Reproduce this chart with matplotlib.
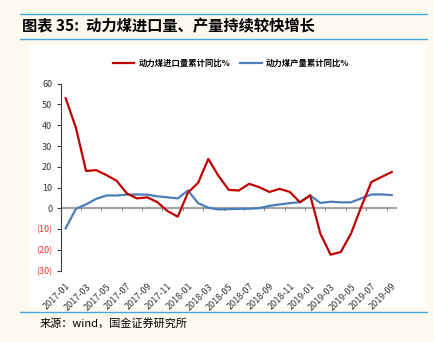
import matplotlib
matplotlib.use("Agg")
import matplotlib.pyplot as plt
from matplotlib.patches import Rectangle
from matplotlib.lines import Line2D
from matplotlib.ticker import FuncFormatter

plt.rcParams['font.family'] = ['Noto Sans CJK SC', 'DejaVu Sans']

# monthly, 2017-01 .. 2019-09
months = [f"{y}-{m:02d}" for y in (2017, 2018, 2019) for m in range(1, 13)][:33]
imports_yoy = [53, 38.8, 18, 18.4, 16, 13.3, 7.2, 4.8, 5.3, 3.0, -1.3, -4.0,
               7.6, 12.3, 23.8, 15.6, 8.9, 8.6, 11.8, 10.2, 7.9, 9.4, 7.9, 2.9,
               6.3, -12.2, -22.3, -21.0, -12.2, 0.6, 12.7, 15.1, 17.5]
output_yoy = [-9.6, -0.2, 1.9, 4.6, 6.2, 6.2, 6.6, 6.7, 6.6, 5.8, 5.3, 4.8,
              8.6, 2.5, 0.3, -0.5, -0.4, -0.2, -0.2, 0.1, 1.2, 1.9, 2.5, 3.0,
              6.2, 2.6, 3.2, 2.9, 2.9, 4.8, 6.7, 6.7, 6.4]
yticks = [-30, -20, -10, 0, 10, 20, 30, 40, 50, 60]

RED = '#C00000'
BLUE = '#4A7EBB'
W, H = 435, 342

fig = plt.figure(figsize=(W / 100, H / 100), dpi=100, facecolor='#FDF9EF')

# white chart panel and blue rules
fig.patches.append(Rectangle((29 / W, 1 - 307 / H), 396 / W, 262 / H,
                             transform=fig.transFigure, facecolor='white',
                             edgecolor='none', zorder=-5))
for yy in (14, 39, 312):
    fig.lines.append(Line2D([20 / W, 427 / W], [1 - yy / H, 1 - yy / H],
                            transform=fig.transFigure, color='#3FA9E0', lw=1.0,
                            zorder=-5))

fig.text(22 / W, 1 - 26 / H, '图表 35:  动力煤进口量、产量持续较快增长',
         fontsize=11, fontweight='bold', va='center', ha='left', style='italic')
fig.text(40 / W, 1 - 323 / H, '来源：wind，国金证券研究所',
         fontsize=8, va='center', ha='left')

ax = fig.add_axes([60.6 / W, 1 - 270.7 / H, 336.2 / W, 187 / H], zorder=2)
ax.set_facecolor('none')

x = list(range(len(months)))
ax.axhline(0, color='#A6A6A6', lw=1.6, zorder=1)
l1, = ax.plot(x, imports_yoy, color=RED, lw=1.6, zorder=3, label='动力煤进口量累计同比%')
l2, = ax.plot(x, output_yoy, color=BLUE, lw=1.6, zorder=2, label='动力煤产量累计同比%')

ax.set_xlim(-0.5, len(months) - 0.5)
ax.set_ylim(-30, 60)

for s in ('top', 'right', 'bottom'):
    ax.spines[s].set_visible(False)
ax.spines['left'].set_color('#404040')
ax.spines['left'].set_linewidth(0.8)

ax.set_yticks(yticks)
ax.yaxis.set_major_formatter(FuncFormatter(
    lambda v, p: f"({abs(int(v))})" if v < 0 else f"{int(v)}"))
ax.tick_params(axis='y', labelsize=6.5, length=3, width=0.8, color='#404040', pad=3)
for lab, v in zip(ax.get_yticklabels(), yticks):
    lab.set_color('#FF3030' if v < 0 else '#333333')

ax.set_xticks(x[::2])
ax.set_xticklabels(months[::2], rotation=45, ha='right', rotation_mode='anchor',
                   fontsize=6.5, color='#333333')
ax.tick_params(axis='x', length=0, pad=8)

# small ticks on the zero line between category pairs
for t in range(1, len(months), 2):
    ax.plot([t + 0.5, t + 0.5], [0, -0.9], color='#808080', lw=0.7, zorder=1)

fig.legend(handles=[l1, l2], loc='center', bbox_to_anchor=(231 / W, 1 - 63 / H),
           ncol=2, frameon=False, handlelength=2.6, columnspacing=1.2,
           handletextpad=0.5, prop={'size': 6, 'weight': 'bold'})

fig.savefig('out.png', dpi=100, facecolor=fig.get_facecolor())
